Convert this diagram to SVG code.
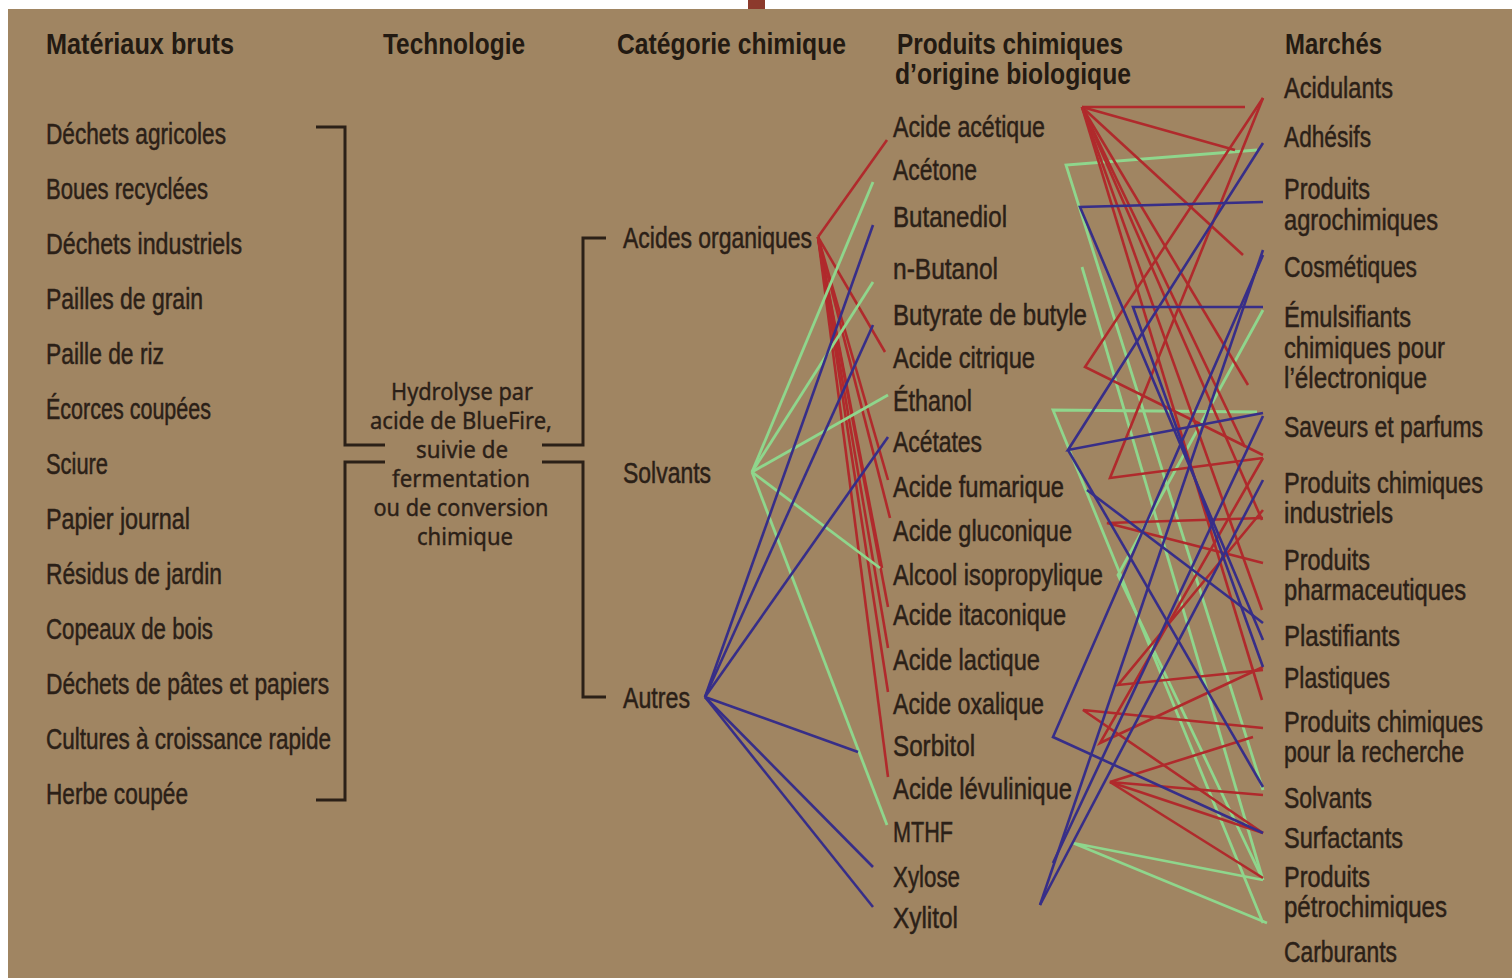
<svg xmlns="http://www.w3.org/2000/svg" width="1512" height="978" viewBox="0 0 1512 978">
<style>
.lbl{font-family:"Liberation Sans",Arial,sans-serif;font-size:30px;fill:#2b2017;stroke:#2b2017;stroke-width:0.5;}
.hdr{font-family:"Liberation Sans",Arial,sans-serif;font-size:30px;font-weight:bold;fill:#231a12;}
.mid{font-family:"Noto Sans","Liberation Sans",sans-serif;font-size:24px;fill:#2b2017;stroke:#2b2017;stroke-width:0.4;text-anchor:middle;}
.br{fill:none;stroke:#2b2017;stroke-width:3;}
.r{stroke:#b02a2c;stroke-width:2.6;fill:none;}
.b{stroke:#372e88;stroke-width:2.6;fill:none;}
.g{stroke:#8fd68c;stroke-width:2.8;fill:none;}
</style>
<rect x="0" y="0" width="1512" height="978" fill="#ffffff"/>
<rect x="8" y="9" width="1504" height="969" fill="#a08562"/>
<rect x="748" y="0" width="17" height="9" fill="#8c3a2c"/>

<g id="headers">
<text class="hdr" x="46" y="54" textLength="188" lengthAdjust="spacingAndGlyphs">Matériaux bruts</text>
<text class="hdr" x="383" y="54" textLength="142" lengthAdjust="spacingAndGlyphs">Technologie</text>
<text class="hdr" x="617" y="54" textLength="229" lengthAdjust="spacingAndGlyphs">Catégorie chimique</text>
<text class="hdr" x="897" y="54" textLength="226" lengthAdjust="spacingAndGlyphs">Produits chimiques</text>
<text class="hdr" x="895" y="84" textLength="236" lengthAdjust="spacingAndGlyphs">d’origine biologique</text>
<text class="hdr" x="1285" y="54" textLength="97" lengthAdjust="spacingAndGlyphs">Marchés</text>
</g>

<g id="raw-materials">
<text class="lbl" x="46" y="144" textLength="180" lengthAdjust="spacingAndGlyphs">Déchets agricoles</text>
<text class="lbl" x="46" y="199" textLength="162" lengthAdjust="spacingAndGlyphs">Boues recyclées</text>
<text class="lbl" x="46" y="254" textLength="196" lengthAdjust="spacingAndGlyphs">Déchets industriels</text>
<text class="lbl" x="46" y="309" textLength="157" lengthAdjust="spacingAndGlyphs">Pailles de grain</text>
<text class="lbl" x="46" y="364" textLength="118" lengthAdjust="spacingAndGlyphs">Paille de riz</text>
<text class="lbl" x="46" y="419" textLength="165" lengthAdjust="spacingAndGlyphs">Écorces coupées</text>
<text class="lbl" x="46" y="474" textLength="62" lengthAdjust="spacingAndGlyphs">Sciure</text>
<text class="lbl" x="46" y="529" textLength="144" lengthAdjust="spacingAndGlyphs">Papier journal</text>
<text class="lbl" x="46" y="584" textLength="176" lengthAdjust="spacingAndGlyphs">Résidus de jardin</text>
<text class="lbl" x="46" y="639" textLength="167" lengthAdjust="spacingAndGlyphs">Copeaux de bois</text>
<text class="lbl" x="46" y="694" textLength="283" lengthAdjust="spacingAndGlyphs">Déchets de pâtes et papiers</text>
<text class="lbl" x="46" y="749" textLength="285" lengthAdjust="spacingAndGlyphs">Cultures à croissance rapide</text>
<text class="lbl" x="46" y="804" textLength="142" lengthAdjust="spacingAndGlyphs">Herbe coupée</text>
</g>

<g id="technology">
<text class="mid" x="462" y="400" textLength="142" lengthAdjust="spacingAndGlyphs">Hydrolyse par</text>
<text class="mid" x="461" y="429" textLength="182" lengthAdjust="spacingAndGlyphs">acide de BlueFire,</text>
<text class="mid" x="462" y="458" textLength="92" lengthAdjust="spacingAndGlyphs">suivie de</text>
<text class="mid" x="461" y="487" textLength="138" lengthAdjust="spacingAndGlyphs">fermentation</text>
<text class="mid" x="461" y="516" textLength="175" lengthAdjust="spacingAndGlyphs">ou de conversion</text>
<text class="mid" x="465" y="545" textLength="96" lengthAdjust="spacingAndGlyphs">chimique</text>
</g>

<g id="brackets">
<polyline class="br" points="316,127 345,127 345,445 385,445"/>
<polyline class="br" points="385,462 345,462 345,800 316,800"/>
<polyline class="br" points="542,445 583,445 583,238 606,238"/>
<polyline class="br" points="542,462 583,462 583,697 606,697"/>
</g>

<g id="categories">
<text class="lbl" x="623" y="248" textLength="189" lengthAdjust="spacingAndGlyphs">Acides organiques</text>
<text class="lbl" x="623" y="483" textLength="88" lengthAdjust="spacingAndGlyphs">Solvants</text>
<text class="lbl" x="623" y="708" textLength="67" lengthAdjust="spacingAndGlyphs">Autres</text>
</g>

<g id="connectors">
<g id="cat-red">
<line class="r" x1="818" y1="237" x2="887" y2="140"/>
<line class="r" x1="818" y1="237" x2="885" y2="352"/>
<line class="r" x1="818" y1="237" x2="888" y2="480"/>
<line class="r" x1="818" y1="237" x2="890" y2="518"/>
<line class="r" x1="818" y1="237" x2="882" y2="568"/>
<line class="r" x1="818" y1="237" x2="888" y2="607"/>
<line class="r" x1="818" y1="237" x2="888" y2="648"/>
<line class="r" x1="818" y1="237" x2="888" y2="692"/>
<line class="r" x1="818" y1="237" x2="888" y2="777"/>
</g>
<g id="cat-green">
<line class="g" x1="752" y1="472" x2="873" y2="182"/>
<line class="g" x1="752" y1="472" x2="873" y2="282"/>
<line class="g" x1="752" y1="472" x2="888" y2="395"/>
<line class="g" x1="752" y1="472" x2="880" y2="568"/>
<line class="g" x1="752" y1="472" x2="887" y2="825"/>
</g>
<g id="cat-blue">
<line class="b" x1="705" y1="697" x2="873" y2="225"/>
<line class="b" x1="705" y1="697" x2="873" y2="325"/>
<line class="b" x1="705" y1="697" x2="888" y2="437"/>
<line class="b" x1="705" y1="697" x2="858" y2="752"/>
<line class="b" x1="705" y1="697" x2="873" y2="867"/>
<line class="b" x1="705" y1="697" x2="873" y2="907"/>
</g>
<g id="mkt-green">
<polyline class="g" points="1257,150 1066,165 1263,790"/>
<line class="g" x1="1082" y1="267" x2="1263" y2="880"/>
<polyline class="g" points="1257,412 1053,410 1263,923"/>
<polyline class="g" points="1263,310 1118,575 1263,880"/>
<polyline class="g" points="1263,880 1073,843 1267,923"/>
</g>
<g id="mkt-red">
<line class="r" x1="1082" y1="107" x2="1245" y2="107"/>
<line class="r" x1="1082" y1="107" x2="1235" y2="150"/>
<line class="r" x1="1082" y1="107" x2="1243" y2="255"/>
<line class="r" x1="1082" y1="107" x2="1248" y2="385"/>
<line class="r" x1="1082" y1="107" x2="1245" y2="447"/>
<line class="r" x1="1082" y1="107" x2="1262" y2="520"/>
<line class="r" x1="1082" y1="107" x2="1262" y2="610"/>
<line class="r" x1="1082" y1="107" x2="1262" y2="700"/>
<polyline class="r" points="1263,98 1085,367 1263,455"/>
<polyline class="r" points="1263,98 1110,478 1263,458"/>
<polyline class="r" points="1263,518 1107,523 1263,563"/>
<polyline class="r" points="1263,510 1118,685 1263,670"/>
<polyline class="r" points="1263,728 1083,710 1263,833"/>
<polyline class="r" points="1263,458 1100,743 1263,667"/>
<polyline class="r" points="1253,737 1110,782 1263,795"/>
<line class="r" x1="1110" y1="782" x2="1263" y2="833"/>
<line class="r" x1="1110" y1="782" x2="1263" y2="878"/>
</g>
<g id="mkt-blue">
<polyline class="b" points="1263,202 1080,207 1263,640"/>
<polyline class="b" points="1263,307 1133,307 1263,667"/>
<polyline class="b" points="1263,143 1068,450 1263,413"/>
<line class="b" x1="1068" y1="450" x2="1263" y2="787"/>
<line class="b" x1="1087" y1="490" x2="1263" y2="623"/>
<polyline class="b" points="1263,255 1053,737 1263,833"/>
<line class="b" x1="1053" y1="863" x2="1263" y2="416"/>
<line class="b" x1="1040" y1="905" x2="1263" y2="480"/>
<line class="b" x1="1040" y1="905" x2="1263" y2="250"/>
</g>
</g>

<g id="products">
<text class="lbl" x="893" y="137" textLength="152" lengthAdjust="spacingAndGlyphs">Acide acétique</text>
<text class="lbl" x="893" y="180" textLength="84" lengthAdjust="spacingAndGlyphs">Acétone</text>
<text class="lbl" x="893" y="227" textLength="114" lengthAdjust="spacingAndGlyphs">Butanediol</text>
<text class="lbl" x="893" y="279" textLength="105" lengthAdjust="spacingAndGlyphs">n-Butanol</text>
<text class="lbl" x="893" y="325" textLength="194" lengthAdjust="spacingAndGlyphs">Butyrate de butyle</text>
<text class="lbl" x="893" y="368" textLength="142" lengthAdjust="spacingAndGlyphs">Acide citrique</text>
<text class="lbl" x="893" y="411" textLength="79" lengthAdjust="spacingAndGlyphs">Éthanol</text>
<text class="lbl" x="893" y="452" textLength="89" lengthAdjust="spacingAndGlyphs">Acétates</text>
<text class="lbl" x="893" y="497" textLength="171" lengthAdjust="spacingAndGlyphs">Acide fumarique</text>
<text class="lbl" x="893" y="541" textLength="179" lengthAdjust="spacingAndGlyphs">Acide gluconique</text>
<text class="lbl" x="893" y="585" textLength="210" lengthAdjust="spacingAndGlyphs">Alcool isopropylique</text>
<text class="lbl" x="893" y="625" textLength="173" lengthAdjust="spacingAndGlyphs">Acide itaconique</text>
<text class="lbl" x="893" y="670" textLength="147" lengthAdjust="spacingAndGlyphs">Acide lactique</text>
<text class="lbl" x="893" y="714" textLength="151" lengthAdjust="spacingAndGlyphs">Acide oxalique</text>
<text class="lbl" x="893" y="756" textLength="82" lengthAdjust="spacingAndGlyphs">Sorbitol</text>
<text class="lbl" x="893" y="799" textLength="179" lengthAdjust="spacingAndGlyphs">Acide lévulinique</text>
<text class="lbl" x="893" y="842" textLength="60" lengthAdjust="spacingAndGlyphs">MTHF</text>
<text class="lbl" x="893" y="887" textLength="67" lengthAdjust="spacingAndGlyphs">Xylose</text>
<text class="lbl" x="893" y="928" textLength="65" lengthAdjust="spacingAndGlyphs">Xylitol</text>
</g>

<g id="markets">
<text class="lbl" x="1284" y="98" textLength="109" lengthAdjust="spacingAndGlyphs">Acidulants</text>
<text class="lbl" x="1284" y="147" textLength="87" lengthAdjust="spacingAndGlyphs">Adhésifs</text>
<text class="lbl" x="1284" y="199" textLength="86" lengthAdjust="spacingAndGlyphs">Produits</text>
<text class="lbl" x="1284" y="230" textLength="154" lengthAdjust="spacingAndGlyphs">agrochimiques</text>
<text class="lbl" x="1284" y="277" textLength="133" lengthAdjust="spacingAndGlyphs">Cosmétiques</text>
<text class="lbl" x="1284" y="327" textLength="127" lengthAdjust="spacingAndGlyphs">Émulsifiants</text>
<text class="lbl" x="1284" y="358" textLength="161" lengthAdjust="spacingAndGlyphs">chimiques pour</text>
<text class="lbl" x="1284" y="388" textLength="143" lengthAdjust="spacingAndGlyphs">l’électronique</text>
<text class="lbl" x="1284" y="437" textLength="199" lengthAdjust="spacingAndGlyphs">Saveurs et parfums</text>
<text class="lbl" x="1284" y="493" textLength="199" lengthAdjust="spacingAndGlyphs">Produits chimiques</text>
<text class="lbl" x="1284" y="523" textLength="109" lengthAdjust="spacingAndGlyphs">industriels</text>
<text class="lbl" x="1284" y="570" textLength="86" lengthAdjust="spacingAndGlyphs">Produits</text>
<text class="lbl" x="1284" y="600" textLength="182" lengthAdjust="spacingAndGlyphs">pharmaceutiques</text>
<text class="lbl" x="1284" y="646" textLength="116" lengthAdjust="spacingAndGlyphs">Plastifiants</text>
<text class="lbl" x="1284" y="688" textLength="106" lengthAdjust="spacingAndGlyphs">Plastiques</text>
<text class="lbl" x="1284" y="732" textLength="199" lengthAdjust="spacingAndGlyphs">Produits chimiques</text>
<text class="lbl" x="1284" y="762" textLength="180" lengthAdjust="spacingAndGlyphs">pour la recherche</text>
<text class="lbl" x="1284" y="808" textLength="88" lengthAdjust="spacingAndGlyphs">Solvants</text>
<text class="lbl" x="1284" y="848" textLength="119" lengthAdjust="spacingAndGlyphs">Surfactants</text>
<text class="lbl" x="1284" y="887" textLength="86" lengthAdjust="spacingAndGlyphs">Produits</text>
<text class="lbl" x="1284" y="917" textLength="163" lengthAdjust="spacingAndGlyphs">pétrochimiques</text>
<text class="lbl" x="1284" y="962" textLength="113" lengthAdjust="spacingAndGlyphs">Carburants</text>
</g>
</svg>
